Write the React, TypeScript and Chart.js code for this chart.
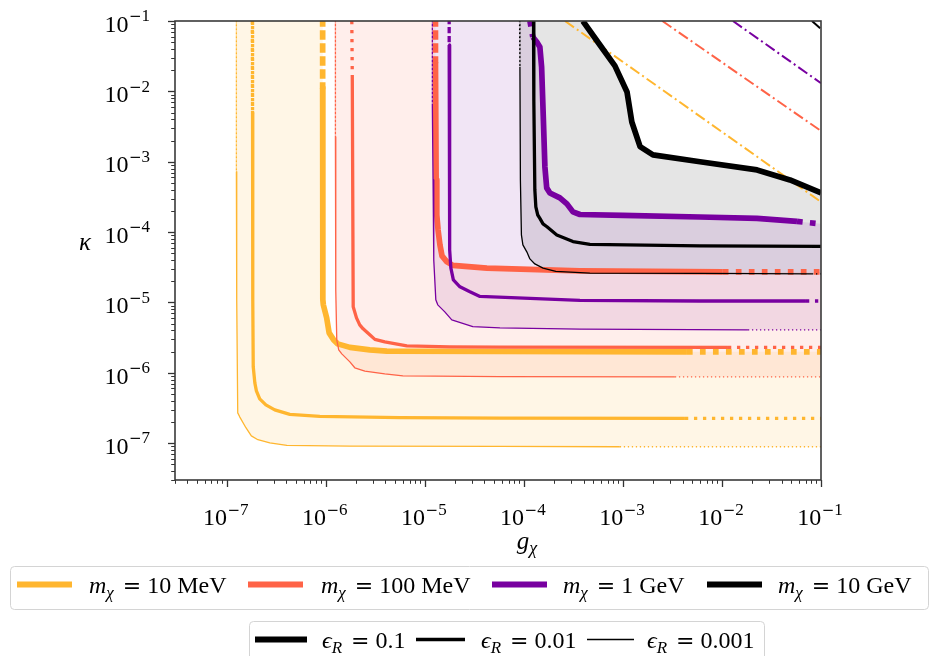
import React, { useEffect, useRef } from 'react';
import { Chart, registerables } from 'chart.js';

Chart.register(...registerables);

// ---------------- axis ranges & ticks ----------------
const G_MIN = 3e-8;
const G_MAX = 0.1;
const K_MIN = 3e-8;
const K_MAX = 0.1;
const decadeExponents = [-7, -6, -5, -4, -3, -2, -1];

// ---------------- legend labels ----------------
const massLabels = ['10 MeV', '100 MeV', '1 GeV', '10 GeV'];
const epsLabels = ['0.1', '0.01', '0.001'];

// ---------------- data (g_chi, kappa) ----------------
// m = 10 MeV
const m10MeV_eps0001_g = [1.25e-7, 1.25e-7, 1.26e-7, 1.29e-7, 1.35e-7, 1.56e-7, 1.77e-7, 2.06e-7, 2.72e-7, 4.04e-7, 1.75e-6, 5.73e-5, 9.3e-4, 0.1];
const m10MeV_eps0001_k = [0.1, 7.2e-4, 1.09e-5, 2.7e-7, 2.37e-7, 1.66e-7, 1.27e-7, 1.12e-7, 1.01e-7, 9.3e-8, 9.1e-8, 9.0e-8, 8.9e-8, 8.9e-8];
const m10MeV_eps001_g = [1.81e-7, 1.82e-7, 1.83e-7, 1.85e-7, 1.92e-7, 1.99e-7, 2.15e-7, 2.48e-7, 3.05e-7, 4.33e-7, 8.69e-7, 5.59e-6, 5.73e-5, 4.23e-3, 0.1];
const m10MeV_eps001_k = [0.1, 4.93e-3, 1.09e-5, 1.22e-6, 7.21e-7, 5.55e-7, 4.27e-7, 3.51e-7, 2.98e-7, 2.57e-7, 2.4e-7, 2.31e-7, 2.27e-7, 2.26e-7, 2.26e-7];
const m10MeV_eps01_g = [9.29e-7, 9.29e-7, 9.33e-7, 9.44e-7, 1.02e-6, 1.08e-6, 1.2e-6, 1.32e-6, 1.75e-6, 2.78e-6, 4.13e-6, 5.73e-5, 4.43e-3, 0.1];
const m10MeV_eps01_k = [0.1, 1.12e-2, 1.09e-5, 9.25e-6, 6.04e-6, 3.7e-6, 2.94e-6, 2.58e-6, 2.3e-6, 2.12e-6, 2.04e-6, 2.01e-6, 1.99e-6, 1.99e-6];
const m10MeV_bound_g = [2.6e-4, 0.1];
const m10MeV_bound_k = [0.1, 2.69e-4];

// m = 100 MeV
const m100MeV_eps0001_g = [1.25e-6, 1.25e-6, 1.26e-6, 1.29e-6, 1.35e-6, 1.45e-6, 1.75e-6, 1.96e-6, 2.48e-6, 3.94e-6, 6.0e-6, 5.73e-5, 3.35e-3, 0.1];
const m100MeV_eps0001_k = [0.1, 2.25e-3, 1.51e-5, 2.94e-6, 2.12e-6, 1.86e-6, 1.43e-6, 1.18e-6, 1.06e-6, 9.68e-7, 9.06e-7, 8.85e-7, 8.77e-7, 8.77e-7];
const m100MeV_eps001_g = [1.83e-6, 1.85e-6, 1.89e-6, 2.04e-6, 2.2e-6, 2.38e-6, 2.78e-6, 3.13e-6, 3.94e-6, 6.58e-6, 1.79e-5, 5.73e-5, 1.15e-2, 0.1];
const m100MeV_eps001_k = [0.1, 1.71e-2, 8.67e-6, 6.04e-6, 4.81e-6, 4.22e-6, 3.47e-6, 2.99e-6, 2.75e-6, 2.42e-6, 2.34e-6, 2.32e-6, 2.3e-6, 2.3e-6];
const m100MeV_eps01_g = [1.28e-5, 1.28e-5, 1.3e-5, 1.32e-5, 1.36e-5, 1.42e-5, 1.49e-5, 1.67e-5, 1.92e-5, 4.23e-5, 3.68e-4, 1.02e-2, 0.1];
const m100MeV_eps01_k = [0.1, 2.62e-2, 5.51e-4, 1.75e-4, 1.07e-4, 6.58e-5, 4.59e-5, 3.78e-5, 3.37e-5, 3.07e-5, 2.81e-5, 2.72e-5, 2.72e-5];
const m100MeV_bound_g = [2.5e-3, 0.1];
const m100MeV_bound_k = [0.1, 2.74e-3];

// m = 1 GeV
const m1GeV_eps0001_g = [1.19e-5, 1.19e-5, 1.21e-5, 1.23e-5, 1.29e-5, 1.35e-5, 1.59e-5, 1.87e-5, 3.05e-5, 5.73e-5, 3.68e-4, 1.83e-2, 0.1];
const m1GeV_eps0001_k = [0.1, 6.41e-3, 5.51e-4, 4.03e-5, 1.09e-5, 9.25e-6, 7.35e-6, 5.66e-6, 4.55e-6, 4.36e-6, 4.18e-6, 4.08e-6, 4.08e-6];
const m1GeV_eps001_g = [1.76e-5, 1.76e-5, 1.77e-5, 1.79e-5, 1.83e-5, 1.94e-5, 2.26e-5, 2.85e-5, 3.6e-5, 3.68e-4, 6.0e-3, 7.05e-2, 0.1];
const m1GeV_eps001_k = [0.1, 4.56e-2, 5.51e-4, 5.59e-5, 3.1e-5, 2.09e-5, 1.67e-5, 1.42e-5, 1.22e-5, 1.07e-5, 1.05e-5, 1.05e-5, 1.05e-5];
const m1GeV_eps01_g = [1.15e-4, 1.23e-4, 1.35e-4, 1.45e-4, 1.51e-4, 1.57e-4, 1.63e-4, 1.7e-4, 1.83e-4, 2.31e-4, 2.72e-4, 3.13e-4, 3.68e-4, 1.0e-3, 6.0e-3, 2.26e-2, 5.72e-2, 0.1];
const m1GeV_eps01_k = [0.1, 5.93e-2, 5.03e-2, 4.27e-2, 2.22e-2, 4.33e-3, 8.44e-4, 4.25e-4, 3.6e-4, 3.06e-4, 2.52e-4, 1.94e-4, 1.78e-4, 1.73e-4, 1.64e-4, 1.57e-4, 1.42e-4, 1.31e-4];
const m1GeV_bound_g = [1.29e-2, 0.1];
const m1GeV_bound_k = [0.1, 1.31e-2];

// m = 10 GeV
const m10GeV_eps0001_g = [9.04e-5, 9.12e-5, 9.22e-5, 9.44e-5, 9.77e-5, 1.07e-4, 1.15e-4, 1.29e-4, 1.56e-4, 2.1e-4, 4.64e-4, 6.0e-3, 8.11e-2, 0.1];
const m10GeV_eps0001_k = [0.1, 2.22e-2, 5.51e-4, 9.12e-5, 6.58e-5, 5.24e-5, 4.16e-5, 3.53e-5, 3.07e-5, 2.77e-5, 2.61e-5, 2.59e-5, 2.55e-5, 2.55e-5];
const m10GeV_eps001_g = [1.25e-4, 1.26e-4, 1.29e-4, 1.32e-4, 1.38e-4, 1.45e-4, 1.56e-4, 1.71e-4, 2.15e-4, 3.13e-4, 4.64e-4, 6.0e-3, 0.1];
const m10GeV_eps001_k = [0.1, 7.55e-3, 3.97e-4, 2.28e-4, 1.75e-4, 1.57e-4, 1.31e-4, 1.19e-4, 9.12e-5, 7.33e-5, 6.68e-5, 6.37e-5, 6.26e-5];
const m10GeV_eps01_g = [3.94e-4, 5.86e-4, 8.3e-4, 1.1e-3, 1.23e-3, 1.49e-3, 2.01e-3, 6.0e-3, 2.26e-2, 4.86e-2, 0.1];
const m10GeV_eps01_k = [0.1, 4.56e-2, 2.3e-2, 9.8e-3, 3.67e-3, 1.64e-3, 1.25e-3, 1.0e-3, 7.65e-4, 5.51e-4, 3.6e-4];
const m10GeV_bound_g = [8.1e-2, 0.1];
const m10GeV_bound_k = [0.1, 7.7e-2];

// ---------------- styles ----------------
const COLORS = ['#FFB62F', '#FF6347', '#7800A0', '#000000'];
const FILLS = ['rgba(255,182,47,0.12)', 'rgba(255,99,71,0.11)', 'rgba(120,0,160,0.1)', 'rgba(0,0,0,0.1)'];
const WIDTHS = [5.7, 3.3, 1.3]; // eps 0.1, 0.01, 0.001
const DOTS = [[5.7, 7.3], [3.3, 5.7], [1.3, 2.7]];
const FONT = '"Liberation Serif", "DejaVu Serif", serif';
const SYM_FONT = '"DejaVu Serif", serif';

const curves = [
  { mass: 0, eps: 0, g: m10MeV_eps01_g, k: m10MeV_eps01_k, kTop: 1e-2, gRight: 4e-3 },
  { mass: 0, eps: 1, g: m10MeV_eps001_g, k: m10MeV_eps001_k, kTop: 4.5e-3, gRight: 4e-3 },
  { mass: 0, eps: 2, g: m10MeV_eps0001_g, k: m10MeV_eps0001_k, kTop: 7e-4, gRight: 9e-4 },
  { mass: 1, eps: 0, g: m100MeV_eps01_g, k: m100MeV_eps01_k, kTop: 2.5e-2, gRight: 1e-2 },
  { mass: 1, eps: 1, g: m100MeV_eps001_g, k: m100MeV_eps001_k, kTop: 1.6e-2, gRight: 1.1e-2 },
  { mass: 1, eps: 2, g: m100MeV_eps0001_g, k: m100MeV_eps0001_k, kTop: 2e-3, gRight: 3e-3 },
  { mass: 2, eps: 0, g: m1GeV_eps01_g, k: m1GeV_eps01_k, kTop: 5.5e-2, gRight: 5.5e-2 },
  { mass: 2, eps: 1, g: m1GeV_eps001_g, k: m1GeV_eps001_k, kTop: 4e-2, gRight: 7e-2 },
  { mass: 2, eps: 2, g: m1GeV_eps0001_g, k: m1GeV_eps0001_k, kTop: 6e-3, gRight: 1.8e-2 },
  { mass: 3, eps: 0, g: m10GeV_eps01_g, k: m10GeV_eps01_k, kTop: Infinity, gRight: Infinity },
  { mass: 3, eps: 1, g: m10GeV_eps001_g, k: m10GeV_eps001_k, kTop: Infinity, gRight: Infinity },
  { mass: 3, eps: 2, g: m10GeV_eps0001_g, k: m10GeV_eps0001_k, kTop: 2e-2, gRight: 8e-2 },
];

const bounds = [
  { mass: 0, g: m10MeV_bound_g, k: m10MeV_bound_k },
  { mass: 1, g: m100MeV_bound_g, k: m100MeV_bound_k },
  { mass: 2, g: m1GeV_bound_g, k: m1GeV_bound_k },
  { mass: 3, g: m10GeV_bound_g, k: m10GeV_bound_k },
];

const pts = (g: number[], k: number[]) => g.map((v, i) => ({ x: v, y: k[i] }));

type Run = { t: string; italic?: boolean; size: number; dy?: number; family?: string; pad?: number };
const fontOf = (r: Run) => `${r.italic ? 'italic ' : ''}${r.size}px ${r.family || FONT}`;

function drawRuns(ctx: CanvasRenderingContext2D, x: number, y: number, runs: Run[], align: 'left' | 'center' | 'right' = 'left') {
  let total = 0;
  for (const r of runs) {
    ctx.font = fontOf(r);
    total += ctx.measureText(r.t).width + (r.pad || 0);
  }
  let cx = align === 'center' ? x - total / 2 : align === 'right' ? x - total : x;
  ctx.textAlign = 'left';
  ctx.textBaseline = 'alphabetic';
  for (const r of runs) {
    ctx.font = fontOf(r);
    ctx.fillText(r.t, cx, y + (r.dy || 0));
    cx += ctx.measureText(r.t).width + (r.pad || 0);
  }
}

const powLabel = (e: number): Run[] => [
  { t: '10', size: 24, pad: 0.5 },
  { t: '\u2212', size: 15, dy: -10.5, family: SYM_FONT },
  { t: String(Math.abs(e)), size: 17, dy: -10.5 },
];

const mathEq = (sym: string, sub: string, value: string): Run[] => [
  { t: sym, italic: true, size: 24 },
  { t: sub, italic: true, size: 17, dy: 5, pad: 3 },
  { t: ' ', size: 24 },
  { t: '=', size: 22, family: SYM_FONT },
  { t: ' ' + value, size: 24 },
];

const decorPlugin = {
  id: 'decor',
  afterDraw(chart: any) {
    const { ctx, chartArea: a, scales } = chart;
    const xs = scales.x;
    const ys = scales.y;
    ctx.save();
    ctx.strokeStyle = '#333333';
    ctx.fillStyle = '#000000';
    // ticks
    for (let e = -8; e <= -1; e++) {
      for (let m = 1; m <= 9; m++) {
        const v = m * Math.pow(10, e);
        const major = m === 1;
        const len = major ? 7 : 3.8;
        ctx.lineWidth = major ? 1.3 : 1;
        if (v >= G_MIN * 0.999 && v <= G_MAX * 1.001) {
          const px = Math.round(xs.getPixelForValue(v)) + 0.5;
          ctx.beginPath();
          ctx.moveTo(px, a.bottom);
          ctx.lineTo(px, a.bottom + len);
          ctx.stroke();
        }
        if (v >= K_MIN * 0.999 && v <= K_MAX * 1.001) {
          const py = Math.round(ys.getPixelForValue(v)) + 0.5;
          ctx.beginPath();
          ctx.moveTo(a.left, py);
          ctx.lineTo(a.left - len, py);
          ctx.stroke();
        }
      }
    }
    // frame
    ctx.lineWidth = 1.6;
    ctx.strokeStyle = '#3a3a3a';
    ctx.strokeRect(a.left, a.top, a.right - a.left, a.bottom - a.top);

    // tick labels
    ctx.fillStyle = '#000';
    for (const e of decadeExponents) {
      const v = Math.pow(10, e);
      const px = xs.getPixelForValue(v);
      drawRuns(ctx, px - 1, 525, powLabel(e), 'center');
      const py = ys.getPixelForValue(v);
      drawRuns(ctx, 150, py + 10.7, powLabel(e), 'right');
    }
    // axis titles
    drawRuns(ctx, 527, 549, [
      { t: 'g', italic: true, size: 25 },
      { t: '\u03C7', italic: true, size: 18, dy: 5 },
    ], 'center');
    drawRuns(ctx, 85, 250, [{ t: '\u03BA', italic: true, size: 25 }], 'center');

    // legend boxes
    const box = (x: number, y: number, w: number, h: number) => {
      ctx.beginPath();
      (ctx as any).roundRect(x, y, w, h, 4);
      ctx.fillStyle = 'rgba(255,255,255,0.85)';
      ctx.fill();
      ctx.strokeStyle = '#d4d4d4';
      ctx.lineWidth = 1;
      ctx.stroke();
    };
    // legend 1 (masses)
    box(10.5, 566.5, 918, 43);
    const mSampleX = [17, 248, 492, 707];
    const mTextX = [89, 321, 563, 778];
    massLabels.forEach((lab, i) => {
      ctx.strokeStyle = COLORS[i];
      ctx.lineWidth = 6;
      ctx.lineCap = 'butt';
      ctx.beginPath();
      ctx.moveTo(mSampleX[i], 584.5);
      ctx.lineTo(mSampleX[i] + 55, 584.5);
      ctx.stroke();
      ctx.fillStyle = '#000';
      drawRuns(ctx, mTextX[i], 593, mathEq('m', '\u03C7', lab));
    });

    // legend 2 (epsilon_R)
    box(249.5, 621.5, 515, 50);
    const eSampleX = [255, 416, 587];
    const eSampleW = [52, 49, 47];
    const eWidths = [6, 3.6, 1.5];
    const eTextX = [322, 481, 647];
    epsLabels.forEach((lab, i) => {
      ctx.strokeStyle = '#000';
      ctx.lineWidth = eWidths[i];
      ctx.beginPath();
      ctx.moveTo(eSampleX[i], 639.5);
      ctx.lineTo(eSampleX[i] + eSampleW[i], 639.5);
      ctx.stroke();
      ctx.fillStyle = '#000';
      drawRuns(ctx, eTextX[i], 648, mathEq('\u03F5', 'R', lab));
    });
    ctx.restore();
  },
};

export default function App() {
  const ref = useRef<HTMLCanvasElement | null>(null);
  useEffect(() => {
    if (!ref.current) return;
    const datasets: any[] = [];
    // shaded regions between the eps=0.001 and eps=0.1 curves of each mass
    for (let m = 0; m < 4; m++) {
      const thin = curves.find((c) => c.mass === m && c.eps === 2)!;
      const thick = curves.find((c) => c.mass === m && c.eps === 0)!;
      datasets.push({
        data: [...pts(thin.g, thin.k), ...pts(thick.g, thick.k).reverse()],
        fill: 'shape',
        backgroundColor: FILLS[m],
        borderColor: 'transparent',
        borderWidth: 0,
        pointRadius: 0,
        showLine: true,
        order: 10 + m,
      });
    }
    curves.forEach((c) => {
      datasets.push({
        data: pts(c.g, c.k),
        borderColor: COLORS[c.mass],
        borderWidth: WIDTHS[c.eps],
        fill: false,
        pointRadius: 0,
        showLine: true,
        order: 3 - c.mass,
        borderCapStyle: 'butt',
        borderJoinStyle: 'round',
        segment: {
          borderDash: (ctx: any) =>
            ctx.p0.parsed.x >= c.gRight || ctx.p1.parsed.y >= c.kTop ? DOTS[c.eps] : undefined,
        },
      });
    });
    bounds.forEach((b) => {
      datasets.push({
        data: pts(b.g, b.k),
        borderColor: COLORS[b.mass],
        borderWidth: 2,
        borderDash: [11, 3.5, 2, 3.5],
        borderCapStyle: 'butt',
        fill: false,
        pointRadius: 0,
        showLine: true,
        order: 3 - b.mass,
      });
    });

    const chart = new Chart(ref.current, {
      type: 'scatter',
      data: { datasets },
      options: {
        animation: false,
        responsive: false,
        devicePixelRatio: 1,
        events: [],
        layout: { padding: { left: 175, top: 21, right: 110, bottom: 176 } },
        scales: {
          x: { type: 'logarithmic', min: G_MIN, max: G_MAX, display: false },
          y: { type: 'logarithmic', min: K_MIN, max: K_MAX, display: false },
        },
        elements: { line: { tension: 0 }, point: { radius: 0 } },
        plugins: {
          legend: { display: false },
          tooltip: { enabled: false },
          filler: { drawTime: 'beforeDatasetsDraw' },
        },
      } as any,
      plugins: [decorPlugin],
    });
    return () => chart.destroy();
  }, []);

  return (
    <div style={{ position: 'fixed', left: 0, top: 0, width: 931, height: 656, background: '#fff' }}>
      <canvas ref={ref} width={931} height={656} style={{ display: 'block' }} />
    </div>
  );
}
